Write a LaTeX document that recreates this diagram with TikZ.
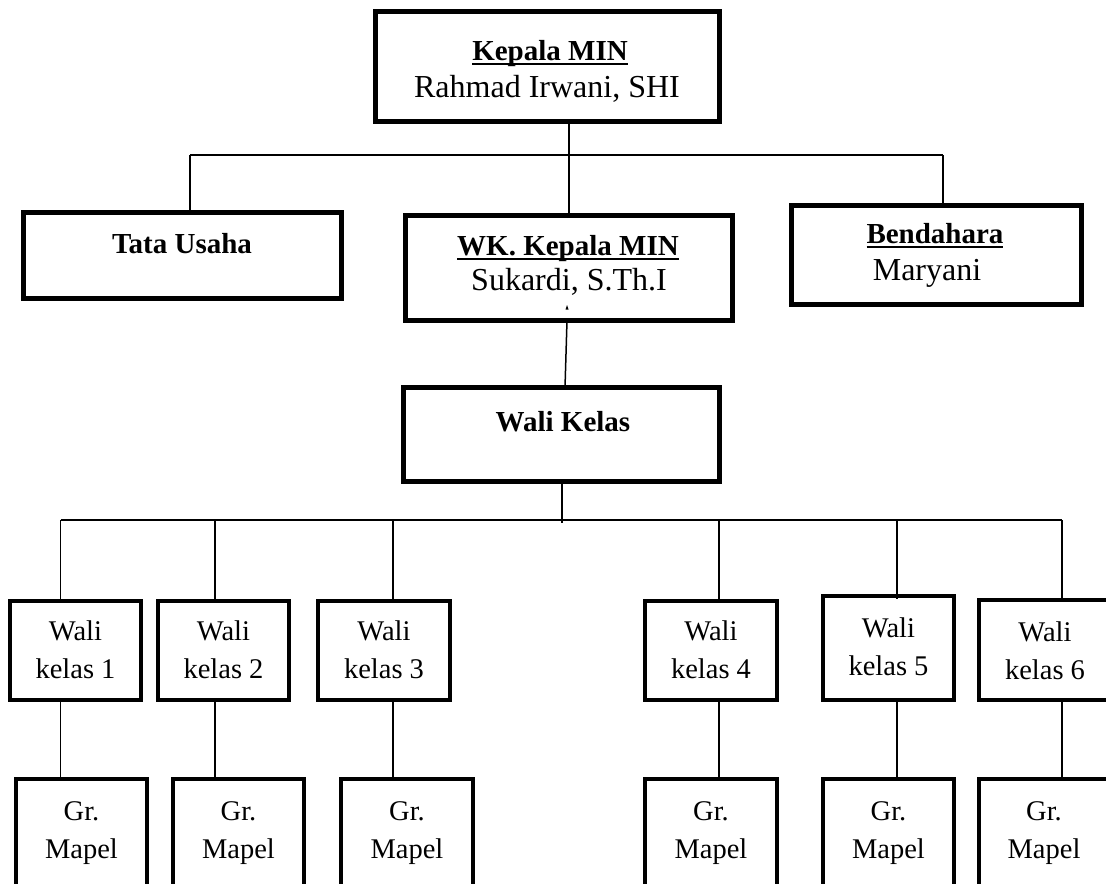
\documentclass[tikz,border=0pt]{standalone}
\usepackage{fontspec}
\setmainfont{Liberation Serif}
\newcommand\fbold{\fontsize{29bp}{34bp}\selectfont\bfseries}
\newcommand\fupper{\fontsize{32bp}{36bp}\selectfont}
\newcommand\flower{\fontsize{28.5bp}{34bp}\selectfont}
\newcommand\myul[1]{\setbox0\hbox{#1}\rlap{\rule[-5bp]{\wd0}{2bp}}\box0}
\begin{document}
\begin{tikzpicture}[x=1bp,y=-1bp,
  box/.style={draw=black,line width=4.5bp,fill=none,inner sep=0pt,outer sep=0pt},
  conn/.style={draw=black,line width=1.5bp},
  txt/.style={anchor=base,inner sep=0pt,outer sep=0pt}]
\useasboundingbox (0,0) rectangle (1106,884);
% boxes
\node[box,minimum width=344bp,minimum height=110bp] (top) at (547.5,66.5) {};
\node[box,minimum width=318bp,minimum height=86bp] (tata) at (182.5,255.5) {};
\node[box,minimum width=327bp,minimum height=105bp] (wk) at (569,268) {};
\node[box,minimum width=290bp,minimum height=99bp] (bend) at (936.5,255) {};
\node[box,minimum width=316bp,minimum height=94bp] (wkls) at (561.5,434.5) {};
\node[box,minimum width=131bp,minimum height=99bp] (w1) at (75.5,650.5) {};
\node[box,minimum width=131bp,minimum height=99bp] (w2) at (223.5,650.5) {};
\node[box,minimum width=132bp,minimum height=99bp] (w3) at (384,650.5) {};
\node[box,minimum width=132bp,minimum height=99bp] (w4) at (711,650.5) {};
\node[box,minimum width=131bp,minimum height=104bp] (w5) at (888.5,648) {};
\node[box,minimum width=136bp,minimum height=100bp] (w6) at (1047,650) {};
\node[box,minimum width=131bp,minimum height=130bp] (g1) at (81.5,844) {};
\node[box,minimum width=131bp,minimum height=130bp] (g2) at (238.5,844) {};
\node[box,minimum width=132bp,minimum height=130bp] (g3) at (407,844) {};
\node[box,minimum width=132bp,minimum height=130bp] (g4) at (711,844) {};
\node[box,minimum width=131bp,minimum height=130bp] (g5) at (888.5,844) {};
\node[box,minimum width=136bp,minimum height=130bp] (g6) at (1047,844) {};
% texts
\node[txt] (t1a) at (550,60) {\fbold\myul{Kepala MIN}};
\node[txt] (t1b) at (547,97) {\fupper Rahmad Irwani, SHI};
\node[txt] (t2) at (182,253) {\fbold Tata Usaha};
\node[txt] (t3a) at (568,255) {\fbold\myul{WK. Kepala MIN}};
\node[txt] (t3b) at (569,290) {\fupper Sukardi, S.Th.I};
\node[txt] (t4a) at (935,243) {\fbold\myul{Bendahara}};
\node[txt] (t4b) at (927,280) {\fupper Maryani};
\node[txt] (t5) at (563,431) {\fbold Wali Kelas};
\foreach \n/\x/\yy/\k in {1/75.5/0/1,2/223.5/0/2,3/384/0/3,4/711/0/4,5/888.5/-3/5,6/1045/1/6}{
  \node[txt] at (\x,640+\yy) {\flower Wali};
  \node[txt] at (\x,678+\yy) {\flower kelas \k};
}
\foreach \x in {81.5,238.5,407,711,888.5,1044}{
  \node[txt] at (\x,820) {\flower Gr.};
  \node[txt] at (\x,858) {\flower Mapel};
}
% connectors top
\coordinate (tl) at (190,155);
\coordinate (tm) at (569,155);
\coordinate (tr) at (943,155);
\draw[conn] (tl) -- (tr);
\draw[conn] (tm |- top.south) -- (tm |- wk.north);
\draw[conn] (tl) -- (tl |- tata.north);
\draw[conn] (tr) -- (tr |- bend.north);
\fill (565.5,309.5) -- (568.5,309.5) -- (567,305) -- cycle;
\coordinate (wkb) at (567,320.5);
\coordinate (wklt) at (565,387.5);
\draw[conn] (wkb) -- (wklt);
% wali kelas bus
\coordinate (bm) at (562,523);
\draw[conn] (bm |- wkls.south) -- (bm);
\coordinate (b1) at (60.5,520);
\coordinate (b2) at (215,520);
\coordinate (b3) at (393,520);
\coordinate (b4) at (719,520);
\coordinate (b5) at (897,520);
\coordinate (b6) at (1062,520);
\draw[conn] (b1) -- (b6);
\draw[conn] (b1) -- (b1 |- w1.north);
\draw[conn] (b2) -- (b2 |- w2.north);
\draw[conn] (b3) -- (b3 |- w3.north);
\draw[conn] (b4) -- (b4 |- w4.north);
\draw[conn] (b5) -- ([yshift=-3bp]b5 |- w5.north);
\draw[conn] (b6) -- (b6 |- w6.north);
\draw[conn] (b1 |- w1.south) -- (b1 |- g1.north);
\draw[conn] (b2 |- w2.south) -- (b2 |- g2.north);
\draw[conn] (b3 |- w3.south) -- (b3 |- g3.north);
\draw[conn] (b4 |- w4.south) -- (b4 |- g4.north);
\draw[conn] (b5 |- w5.south) -- (b5 |- g5.north);
\draw[conn] (b6 |- w6.south) -- (b6 |- g6.north);
\end{tikzpicture}
\end{document}
